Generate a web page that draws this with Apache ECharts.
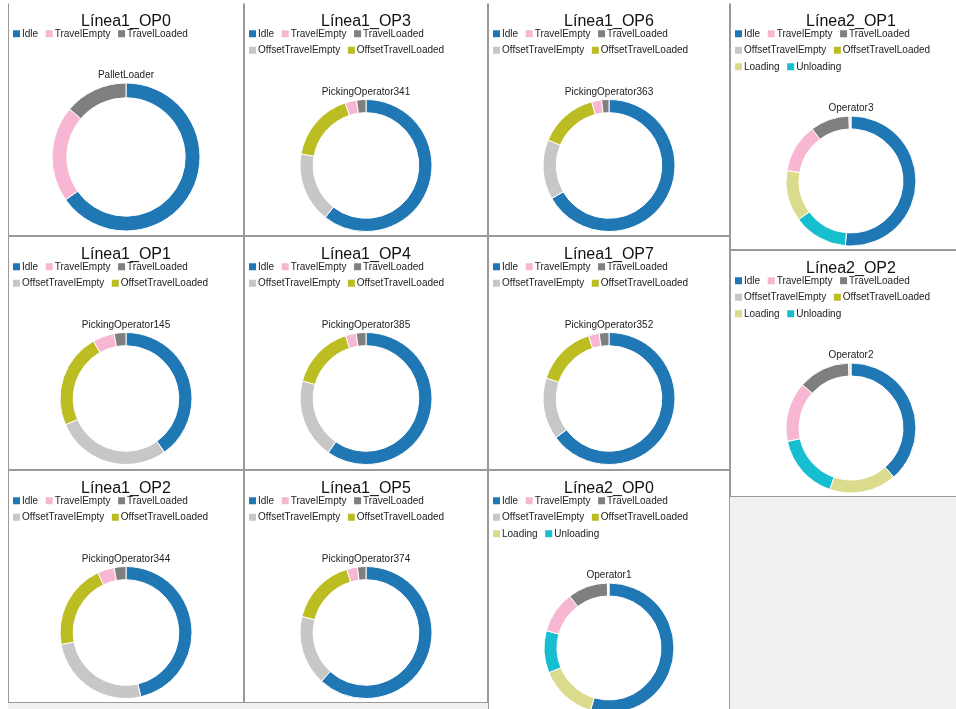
<!DOCTYPE html>
<html><head><meta charset="utf-8">
<script src="https://cdn.jsdelivr.net/npm/echarts@6/dist/echarts.min.js"></script>
<style>
html,body{margin:0;padding:0;background:#fff;width:956px;height:709px;overflow:hidden;font-family:'Liberation Sans',Arial,sans-serif}
#bg{position:absolute;left:8px;top:3px;width:948px;height:706px;background:#f0f0f0}
.panel{position:absolute;box-sizing:border-box;border:1px solid #9a9a9a;background:#fff}
.panel.top{border-top-color:#fff}
.panel .c{width:100%;height:100%}
</style></head><body>
<div id="bg"></div>
<script>
// ---- data ----
const stateNames = ['Idle','TravelEmpty','TravelLoaded','OffsetTravelEmpty','OffsetTravelLoaded','Loading','Unloading'];
const panelTitles = ['Línea1_OP0','Línea1_OP1','Línea1_OP2','Línea1_OP3','Línea1_OP4','Línea1_OP5','Línea1_OP6','Línea1_OP7','Línea2_OP0','Línea2_OP1','Línea2_OP2'];
const operatorNames = ['PalletLoader','PickingOperator145','PickingOperator344','PickingOperator341','PickingOperator385','PickingOperator374','PickingOperator363','PickingOperator352','Operator1','Operator3','Operator2'];
// values (%) in stateNames order
const valsL1OP0 = [65.2, 21.0, 13.8];
const valsL1OP1 = [40.1, 5.3, 2.9, 28.4, 23.3];
const valsL1OP2 = [46.4, 4.1, 2.9, 25.7, 20.9];
const valsL1OP3 = [60.6, 2.8, 2.3, 17.2, 17.1];
const valsL1OP4 = [59.7, 2.6, 2.4, 19.6, 15.7];
const valsL1OP5 = [61.8, 2.6, 2.1, 17.1, 16.4];
const valsL1OP6 = [66.7, 2.4, 1.8, 14.6, 14.5];
const valsL1OP7 = [64.9, 2.6, 2.4, 15.1, 15.0];
const valsL2OP0 = [54.6, 10.4, 9.9, 0.25, 0.15, 14.2, 10.5];
const valsL2OP1 = [51.4, 12.2, 9.7, 0.3, 0.2, 12.7, 13.5];
const valsL2OP2 = [38.6, 14.9, 12.8, 0.4, 0.2, 16.7, 16.4];
const panelValues = [valsL1OP0, valsL1OP1, valsL1OP2, valsL1OP3, valsL1OP4, valsL1OP5, valsL1OP6, valsL1OP7, valsL2OP0, valsL2OP1, valsL2OP2];

// ---- styles / layout ----
const stateColors = ['#1f77b4','#f7b6d2','#7f7f7f','#c7c7c7','#bcbd22','#dbdb8d','#17becf'];
const slots = [
  {x:8,y:3,w:236,h:233},{x:8,y:236,w:236,h:234},{x:8,y:470,w:236,h:233},
  {x:244,y:3,w:244,h:233},{x:244,y:236,w:244,h:234},{x:244,y:470,w:244,h:233},
  {x:488,y:3,w:242,h:233},{x:488,y:236,w:242,h:234},{x:488,y:470,w:242,h:247},
  {x:730,y:3,w:242,h:247},{x:730,y:250,w:242,h:247}
];
const legendRowSizes = [3, 2, 2];
const geom = {1:{cy:153,r:74},2:{cy:161.5,r:66},3:{cy:177,r:65}};
const FONT = "'Liberation Sans', Arial, sans-serif";

panelTitles.forEach((title, i) => {
  const s = slots[i];
  const div = document.createElement('div');
  div.className = 'panel' + (s.y < 10 ? ' top' : '');
  div.style.left = s.x + 'px'; div.style.top = s.y + 'px';
  div.style.width = s.w + 'px'; div.style.height = s.h + 'px';
  const c = document.createElement('div'); c.className = 'c';
  div.appendChild(c); document.body.appendChild(div);

  const vals = panelValues[i];
  const names = stateNames.slice(0, vals.length);
  const legendRows = [];
  let p = 0;
  for (const n of legendRowSizes) { if (p < names.length) legendRows.push(names.slice(p, p + n)); p += n; }
  const g = geom[legendRows.length];
  const data = names.map((n, k) => ({name: n, value: vals[k], itemStyle: {color: stateColors[k]}}))
                    .sort((a, b) => b.value - a.value);

  const chart = echarts.init(c, null, {renderer: 'canvas'});
  chart.setOption({
    animation: false,
    textStyle: {fontFamily: FONT},
    title: [
      {text: title, left: 'center', top: 10, padding: 0,
       textStyle: {fontFamily: FONT, fontSize: 16, fontWeight: 'normal', color: '#111', lineHeight: 16}},
      {text: operatorNames[i], left: 'center', top: g.cy - g.r - 7.5 - 6, padding: 0,
       textStyle: {fontFamily: FONT, fontSize: 10, fontWeight: 'normal', color: '#222', lineHeight: 12}}
    ],
    legend: legendRows.map((row, k) => ({
      data: row, left: 4, top: 24 + 16.5 * k, padding: 0, orient: 'horizontal',
      itemWidth: 7, itemHeight: 7, itemGap: 7.6, icon: 'rect', selectedMode: false,
      itemStyle: {borderWidth: 0},
      textStyle: {fontFamily: FONT, fontSize: 10, color: '#222', lineHeight: 11.5, padding: [0, 0, 0, -3]}
    })),
    series: [{
      type: 'pie', center: ['50%', g.cy], radius: [g.r * 0.8, g.r],
      startAngle: 90, clockwise: true, avoidLabelOverlap: false, silent: true,
      label: {show: false}, labelLine: {show: false},
      itemStyle: {borderColor: '#fff', borderWidth: 1},
      emphasis: {disabled: true},
      data: data
    }]
  });
});
</script>
</body></html>
